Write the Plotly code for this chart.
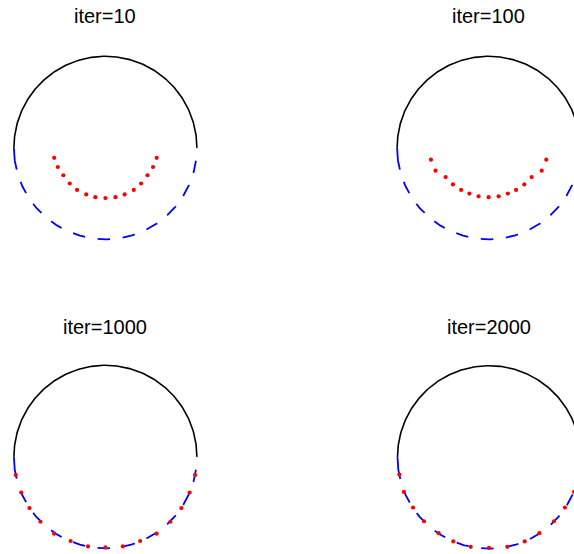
import numpy as np
import plotly.graph_objects as go

# ---- data ----
titles = ["iter=10", "iter=100", "iter=1000", "iter=2000"]

iter10_x = [-0.56, -0.52, -0.46, -0.39, -0.31, -0.21, -0.11, 0.00, 0.11, 0.21, 0.31, 0.39, 0.46, 0.52, 0.56]
iter10_y = [-0.11, -0.21, -0.30, -0.39, -0.46, -0.51, -0.54, -0.55, -0.54, -0.51, -0.46, -0.39, -0.30, -0.21, -0.11]

iter100_x = [-0.63, -0.58, -0.47, -0.39, -0.30, -0.21, -0.11, 0.00, 0.11, 0.21, 0.30, 0.39, 0.47, 0.58, 0.63]
iter100_y = [-0.13, -0.25, -0.32, -0.40, -0.46, -0.50, -0.53, -0.54, -0.53, -0.50, -0.46, -0.40, -0.32, -0.25, -0.13]

iter1000_x = [-0.98, -0.92, -0.83, -0.71, -0.56, -0.38, -0.19, 0.00, 0.19, 0.38, 0.56, 0.71, 0.83, 0.92, 0.98]
iter1000_y = [-0.20, -0.39, -0.56, -0.71, -0.84, -0.92, -0.98, -0.99, -0.98, -0.92, -0.84, -0.71, -0.56, -0.39, -0.20]

iter2000_x = [-0.98, -0.93, -0.83, -0.71, -0.55, -0.39, -0.20, 0.00, 0.20, 0.39, 0.55, 0.71, 0.83, 0.93, 0.98]
iter2000_y = [-0.19, -0.38, -0.55, -0.70, -0.83, -0.92, -0.98, -0.99, -0.98, -0.92, -0.83, -0.70, -0.55, -0.38, -0.19]

points = [(iter10_x, iter10_y), (iter100_x, iter100_y),
          (iter1000_x, iter1000_y), (iter2000_x, iter2000_y)]

# ---- layout geometry (pixels) ----
W, H = 574, 554
S = 91.5  # pixels per data unit
centers = [(105.4, 147.8), (488.6, 147.8), (105.4, 456.8), (489.0, 457.2)]
boxes = [(0, 287, 0, 277), (287, 574, 0, 277), (0, 287, 277, 554), (287, 574, 277, 554)]
title_pos = [(105.0, 16.5), (488.7, 16.5), (104.5, 326.5), (488.7, 326.5)]

theta_up = np.linspace(0, np.pi, 240)
theta_lo = np.linspace(np.pi, 2 * np.pi, 240)
blue_dash = "22px,13px," + ",".join(["12.5px,12.7px"] * 12)

fig = go.Figure()
layout_axes = {}
annotations = []
for i in range(4):
    n = "" if i == 0 else str(i + 1)
    xa, ya = "x" + n, "y" + n
    # lower semicircle (blue dashed)
    fig.add_trace(go.Scatter(x=np.cos(theta_lo), y=np.sin(theta_lo), mode="lines",
                             line=dict(color="#0000FF", width=1.8, dash=blue_dash),
                             xaxis=xa, yaxis=ya, showlegend=False, hoverinfo="skip"))
    # upper semicircle (black solid)
    fig.add_trace(go.Scatter(x=np.cos(theta_up), y=np.sin(theta_up), mode="lines",
                             line=dict(color="black", width=1.6),
                             xaxis=xa, yaxis=ya, showlegend=False, hoverinfo="skip"))
    # red estimated points
    px_, py_ = points[i]
    fig.add_trace(go.Scatter(x=px_, y=py_, mode="markers",
                             marker=dict(color="#FF0000", size=4.2, line=dict(width=0)),
                             xaxis=xa, yaxis=ya, showlegend=False))
    L, R, T, B = boxes[i]
    cx, cy = centers[i]
    ax_common = dict(visible=False, showgrid=False, zeroline=False, fixedrange=True)
    layout_axes["xaxis" + n] = dict(domain=[L / W, R / W],
                                    range=[(L - cx) / S, (R - cx) / S],
                                    anchor=ya, **ax_common)
    layout_axes["yaxis" + n] = dict(domain=[1 - B / H, 1 - T / H],
                                    range=[(cy - B) / S, (cy - T) / S],
                                    anchor=xa, **ax_common)
    tx, ty = title_pos[i]
    annotations.append(dict(text=titles[i], x=tx / W, y=1 - ty / H, xref="paper", yref="paper",
                            xanchor="center", yanchor="middle", showarrow=False,
                            font=dict(family="Liberation Sans, Arial, sans-serif", size=20, color="black")))

fig.update_layout(width=W, height=H, autosize=False,
                  margin=dict(l=0, r=0, t=0, b=0, pad=0),
                  paper_bgcolor="white", plot_bgcolor="white",
                  annotations=annotations, **layout_axes)

fig.write_html("out.html", config={"displayModeBar": False},
               post_script="document.body.style.margin='0px';")
